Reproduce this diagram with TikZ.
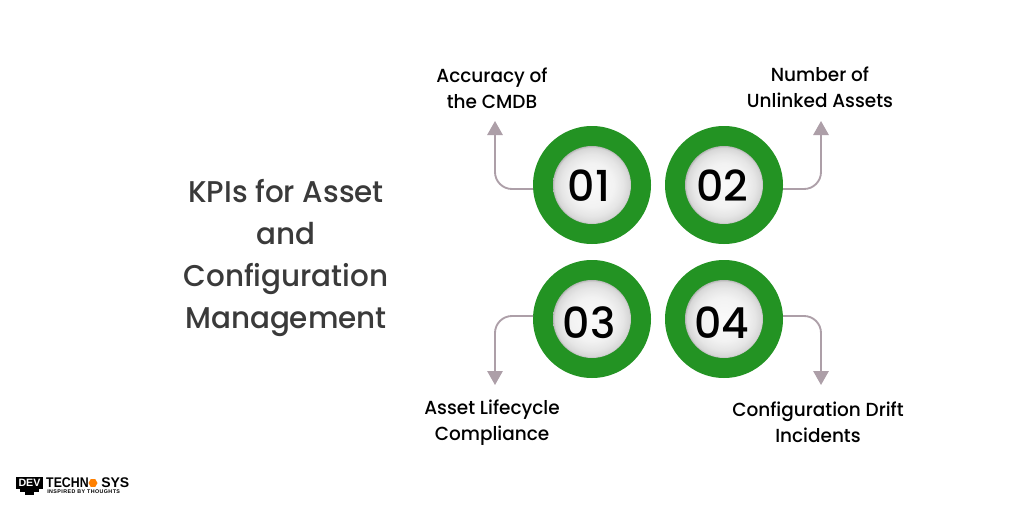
\documentclass[tikz,border=0pt]{standalone}
\usepackage{fontspec}
\usetikzlibrary{arrows.meta,calc,shapes.geometric}
\setmainfont{Poppins Medium}[FakeStretch=0.975]
\newfontfamily\titlefont{Poppins Medium}[FakeStretch=0.98]
\newfontfamily\numfont{Poppins Medium}
\newfontfamily\logofont{Liberation Sans}[BoldFont={Liberation Sans Bold}]
\definecolor{ringgreen}{HTML}{239323}
\definecolor{arrowgrey}{HTML}{AD9FA8}
\definecolor{titlegrey}{HTML}{3A3A3A}
\pgfdeclareradialshading{discshade}{\pgfpoint{0bp}{0bp}}{%
  color(0bp)=(white!98!black); color(14bp)=(white!95!black); color(20bp)=(white!90!black);
  color(24bp)=(white!84!black); color(25bp)=(white!72!black); color(50bp)=(white!72!black)}
\newlength{\pxu}\setlength{\pxu}{0.75pt}
\tikzset{
  ring/.style={circle,fill=ringgreen,minimum size=118\pxu,inner sep=0pt},
  disc/.style={circle,shading=discshade,minimum size=78\pxu,inner sep=0pt},
  digits/.style={font=\numfont\fontsize{32}{32}\selectfont,text=black,inner sep=0pt},
  label/.style={align=center,font=\fontsize{14.2}{19.6}\selectfont,text=black,inner sep=0pt},
  conn/.style={arrowgrey,line width=1.4pt,rounded corners=17\pxu,-{Triangle[length=10.5pt,width=11.5pt]}},
}
\begin{document}
\begin{tikzpicture}[x=0.75pt,y=-0.75pt]
\useasboundingbox (0,0) rectangle (1014,507);
\fill[white] (0,0) rectangle (1014,507);
\node[align=center,font=\titlefont\fontsize{22.5}{31.7}\selectfont,text=titlegrey,inner sep=0pt] (title) at (286,258) {KPIs for Asset\\and\\Configuration\\Management};
\foreach \n/\x/\y in {r1/592/185,r2/724/185,r3/592/319,r4/724/319}{
  \node[ring] (\n) at (\x,\y) {};
  \node[disc] (d\n) at (\x,\y) {};
}
\node[digits] (n1) at (589,186) {01};
\node[digits] (n2) at (722,186) {02};
\node[digits] (n3) at (589,323) {03};
\node[digits] (n4) at (722,323) {04};
\node[label] (l1) at (492,88) {Accuracy of\\the CMDB};
\node[label] (l2) at (820,87) {Number of\\Unlinked Assets};
\node[label] (l3) at (492,423) {Asset Lifecycle\\Compliance};
\node[label] (l4) at (818,422) {Configuration Drift\\Incidents};
\coordinate (a1) at (495,121);
\coordinate (a2) at (821,121);
\coordinate (a3) at (495,385);
\coordinate (a4) at (821,385);
\draw[conn] ($(r1.center)+(-59,4)$) -| (a1);
\draw[conn] ($(r2.center)+(59,4)$) -| (a2);
\draw[conn] ($(r3.center)+(-59,-3)$) -| (a3);
\draw[conn] ($(r4.center)+(59,-3)$) -| (a4);
% logo
\fill[black] (16,477) rectangle (43,489);
\fill[black] (20,489) rectangle (39,492);
\fill[black] (25,492) rectangle (34,495);
\node[text=white,font=\logofont\bfseries\fontsize{8}{8}\selectfont,inner sep=0pt] (logobox) at (29.5,483) {DEV};
\node[font=\logofont\bfseries\fontsize{10.5}{10.5}\selectfont,text=black,inner sep=0pt,anchor=base west,xscale=0.88] (logoa) at (46,487.5) {TECHN};
\node[regular polygon,regular polygon sides=6,fill=orange,inner sep=0pt,minimum size=9\pxu] (logohex) at (93,483) {};
\node[font=\logofont\bfseries\fontsize{10.5}{10.5}\selectfont,text=black,inner sep=0pt,anchor=base west] (logob) at (101,487.5) {SYS};
\node[font=\logofont\bfseries\fontsize{4}{4}\selectfont\addfontfeature{LetterSpace=8},text=black,inner sep=0pt,anchor=base west] (logosub) at (47,493) {INSPIRED BY THOUGHTS};
\end{tikzpicture}
\end{document}
